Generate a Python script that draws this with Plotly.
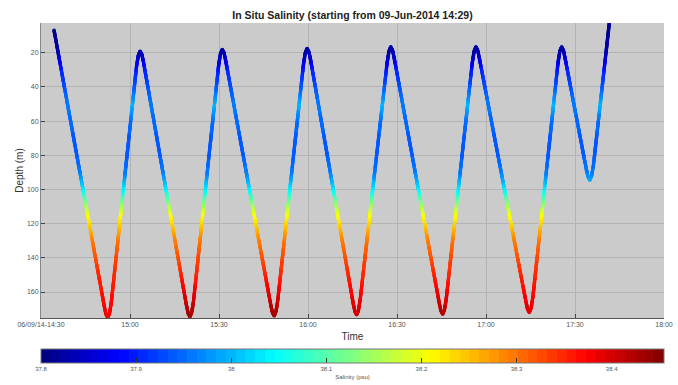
import numpy as np
import pandas as pd
import plotly.graph_objects as go

# ---------------- data ----------------
# profile path: minutes after 14:30 and depth (m), incl. rounded turns
turn_min = [4.4,
            21.3, 21.9, 22.5, 23.1, 23.7,
            32.2, 32.8, 33.4, 34.0, 34.6,
            49.0, 49.6, 50.2, 50.8, 51.4,
            59.9, 60.5, 61.1, 61.7, 62.3,
            77.4, 78.0, 78.6, 79.2, 79.8,
            88.5, 89.1, 89.7, 90.3, 90.9,
            105.2, 105.8, 106.4, 107.0, 107.6,
            116.7, 117.3, 117.9, 118.5, 119.1,
            134.2, 134.8, 135.4, 136.0, 136.6,
            145.4, 146.0, 146.6, 147.2, 147.8,
            163.4, 164.0, 164.6, 165.2, 165.8,
            174.3, 174.9, 175.5, 176.1, 176.7,
            183.8, 184.4, 185.0, 185.6, 186.2,
            191.7]
turn_depth = [6.8,
              168, 173, 175, 172.5, 166,
              28, 21.5, 19, 21, 26,
              167.5, 172.5, 174.5, 172, 165.5,
              27, 20.5, 18, 20, 25,
              167, 172, 174, 171.5, 165,
              26.4, 19.9, 17.4, 19.4, 24.4,
              166.3, 171.3, 173.3, 170.8, 164.3,
              25.5, 19, 16.5, 18.5, 23.5,
              166, 171, 173, 170.5, 164,
              25.5, 19, 16.5, 18.5, 23.5,
              165, 170, 172, 169.5, 163,
              25.5, 19, 16.5, 18.5, 23.5,
              88, 92.6, 94.6, 92, 86,
              0.5]

prof_depth = [0, 10, 20, 30, 40, 50, 60, 70, 80, 90, 95, 100, 105, 110,
              115, 120, 125, 130, 140, 150, 160, 170, 176]
sal_down = [37.80, 37.81, 37.83, 37.90, 37.93, 37.96, 37.95, 37.94, 37.94,
            37.96, 37.99, 38.03, 38.09, 38.15, 38.20, 38.23, 38.26, 38.29,
            38.32, 38.35, 38.37, 38.39, 38.40]
sal_up = [37.81, 37.82, 37.83, 37.90, 37.94, 38.00, 37.95, 37.94, 37.94,
          37.96, 38.00, 38.04, 38.10, 38.16, 38.21, 38.24, 38.27, 38.30,
          38.33, 38.35, 38.37, 38.39, 38.40]
bottom_min = [22.5, 50.2, 78.6, 106.4, 135.4, 164.6]
bottom_sal = [38.38, 38.44, 38.44, 38.41, 38.43, 38.40]

x_tick_min = [0, 30, 60, 90, 120, 150, 180, 210]
x_tick_text = ["06/09/14-14:30", "15:00", "15:30", "16:00", "16:30",
               "17:00", "17:30", "18:00"]
y_ticks = [20, 40, 60, 80, 100, 120, 140, 160]
cb_ticks = [37.8, 37.9, 38.0, 38.1, 38.2, 38.3, 38.4]
cb_text = ["37.8", "37.9", "38", "38.1", "38.2", "38.3", "38.4"]
sal_min, sal_max = 37.8, 38.455

# ---------------- rendering ----------------
base = pd.Timestamp("2014-06-09 14:30")
PX_X = 623 / 210.0
PX_Y = 1.709
tt, dd, down = [], [], []
for i in range(len(turn_min) - 1):
    t0, t1 = turn_min[i], turn_min[i + 1]
    d0, d1 = turn_depth[i], turn_depth[i + 1]
    L = np.hypot((t1 - t0) * PX_X, (d1 - d0) * PX_Y)
    n = max(2, int(np.ceil(L / 0.5)))
    s = np.linspace(0, 1, n, endpoint=False)
    tt.extend(t0 + (t1 - t0) * s)
    dd.extend(d0 + (d1 - d0) * s)
    down.extend([d1 > d0] * n)
tt.append(turn_min[-1]); dd.append(turn_depth[-1]); down.append(False)
tt = np.array(tt); dd = np.array(dd); down = np.array(down)

sal = np.where(down, np.interp(dd, prof_depth, sal_down),
               np.interp(dd, prof_depth, sal_up))
k = np.argmin(np.abs(tt[:, None] - np.array(bottom_min)[None, :]), axis=1)
sal = sal + (np.array(bottom_sal)[k] - 38.40) * np.clip((dd - 150) / 26.0, 0, 1)

times = base + pd.to_timedelta(tt, unit="m")


# MATLAB-style 64-step jet colour map
def jet_rgb(v):
    r = np.clip(1.5 - abs(4 * v - 3), 0, 1)
    g = np.clip(1.5 - abs(4 * v - 2), 0, 1)
    b = np.clip(1.5 - abs(4 * v - 1), 0, 1)
    return "rgb(%d,%d,%d)" % (round(r * 255), round(g * 255), round(b * 255))


N = 64
jet = []
for i in range(N):
    c = jet_rgb((i + 0.5) / N)
    jet.append([i / N, c])
    jet.append([(i + 1) / N, c])

fig = go.Figure()
fig.add_trace(go.Scatter(
    x=times, y=dd, mode="markers", hoverinfo="skip",
    marker=dict(size=3.3, color=sal, colorscale=jet, cmin=sal_min, cmax=sal_max,
                line=dict(width=0),
                colorbar=dict(orientation="h", x=0.5, xanchor="center",
                              y=-0.105, yanchor="top", len=1.0, lenmode="fraction",
                              thickness=14, outlinecolor="#777", outlinewidth=1,
                              xpad=0, ypad=0,
                              tickvals=cb_ticks, ticktext=cb_text,
                              ticks="inside", ticklen=5, tickcolor="#333",
                              tickfont=dict(size=6, color="#555"),
                              title=dict(text="Salinity (psu)", side="bottom",
                                         font=dict(size=6, color="#555")))),
    showlegend=False))

font = "Liberation Sans, Arial, sans-serif"
fig.update_layout(
    width=678, height=385,
    margin=dict(l=41, r=14, t=23, b=67, autoexpand=False),
    paper_bgcolor="white", plot_bgcolor="#cbcbcb",
    font=dict(family=font, color="#444"),
    title=dict(text="<b>In Situ Salinity (starting from 09-Jun-2014 14:29)</b>",
               x=0.5, xref="paper", xanchor="center", y=1, yref="paper",
               yanchor="bottom", pad=dict(b=4),
               font=dict(size=10.5, color="#222", family=font)),
    xaxis=dict(type="date", automargin=False,
               range=[base, base + pd.Timedelta(minutes=210)],
               tickvals=[base + pd.Timedelta(minutes=m) for m in x_tick_min],
               ticktext=x_tick_text, tickfont=dict(size=7, color="#555"),
               ticks="inside", ticklen=4, tickcolor="#444",
               showgrid=True, gridcolor="#b3b3b3", gridwidth=1,
               showline=True, linecolor="#555", linewidth=1, zeroline=False,
               title=dict(text="Time", font=dict(size=10, color="#333"), standoff=5)),
    yaxis=dict(range=[175.2, 2.6], tickvals=y_ticks, automargin=False,
               tickfont=dict(size=7, color="#555"),
               ticks="inside", ticklen=4, tickcolor="#444",
               showgrid=True, gridcolor="#b3b3b3", gridwidth=1,
               showline=True, linecolor="#888", linewidth=1, zeroline=False,
               title=dict(text="Depth (m)", font=dict(size=10, color="#333"), standoff=1)),
)

fig.write_html("out.html", config={"displayModeBar": False},
               post_script="document.body.style.margin='0';document.body.style.overflow='hidden';")
